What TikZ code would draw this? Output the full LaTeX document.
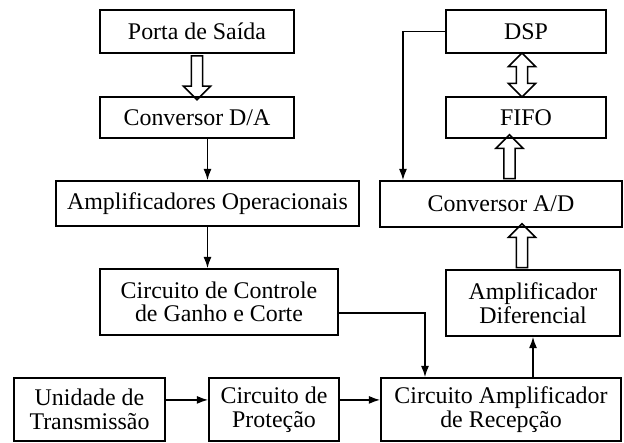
\documentclass[tikz,border=0pt]{standalone}
\usepackage{fontspec}
\setmainfont{Liberation Serif}
\usetikzlibrary{arrows.meta, shapes.arrows}

\begin{document}
\begin{tikzpicture}[x=0.025cm, y=-0.025cm, >={Latex[length=2.8mm, width=2mm]}, font=\fontsize{17}{16.8}\selectfont,
        block/.style={rectangle, draw, line width=1.3pt, align=center, inner sep=0pt},
        link/.style={->, line width=0.9pt},
        hollow/.style={single arrow, draw, line width=1.1pt, inner sep=0.12cm, minimum height=1.1cm, single arrow head extend=0.2cm},
        hollowboth/.style={double arrow, draw, line width=1.1pt, inner sep=0.12cm, minimum height=1.1cm, double arrow head extend=0.2cm}]
        \useasboundingbox (0,0) rectangle (624,442);
        \node[block, minimum width=4.85cm, minimum height=1.075cm] (porta) at (197,31.5) {Porta de Saída};
        \node[block, minimum width=4.85cm, minimum height=1.025cm] (da) at (197,117.5) {Conversor D/A};
        \node[block, minimum width=7.575cm, minimum height=1.125cm] (ampop) at (207.5,203.5) {Amplificadores Operacionais};
        \node[block, minimum width=5.95cm, minimum height=1.65cm] (ctrl) at (219,302) {Circuito de Controle\\de Ganho e Corte};
        \node[block, minimum width=4cm, minimum height=1.075cm] (dsp) at (526,31.5) {DSP};
        \node[block, minimum width=4cm, minimum height=1.025cm] (fifo) at (526,117.5) {FIFO};
        \node[block, minimum width=6.05cm, minimum height=1.15cm] (ad) at (501,204) {Conversor A/D};
        \node[block, minimum width=4.35cm, minimum height=1.65cm] (ampdif) at (533,303) {Amplificador\\Diferencial};
        \node[block, minimum width=3.775cm, minimum height=1.575cm] (unid) at (89.5,409.5) {Unidade de\\Transmissão};
        \node[block, minimum width=3.25cm, minimum height=1.575cm] (prot) at (274,409.5) {Circuito de\\Proteção};
        \node[block, minimum width=6cm, minimum height=1.575cm] (rec) at (501,409.5) {Circuito Amplificador\\de Recepção};

        \path (porta.south) -- (da.north) node[midway, hollow, rotate=-90] {};
        \path ([xshift=-0.1cm]dsp.south) -- ([xshift=-0.1cm]fifo.north) node[midway, hollowboth, rotate=90] {};
        \path ([xshift=-0.1cm]ad.north) -- ([xshift=-0.1cm]fifo.south) node[midway, hollow, rotate=90] {};
        \path ([xshift=-0.275cm]ampdif.north) -- ([xshift=-0.275cm]ampdif.north |- ad.south) node[midway, hollow, rotate=90] {};

        \draw[link] (da.south -| ampop.north) -- (ampop.north);
        \draw[link] (ampop.south) -- (ampop.south |- ctrl.north);
        \draw[link] ([yshift=-0.275cm]ctrl.east) -| ([xshift=-1.9cm]rec.north);
        \draw[link] ([yshift=0.24cm]unid.east) -- ([yshift=0.24cm]prot.west);
        \draw[link] ([yshift=0.24cm]prot.east) -- ([yshift=0.24cm]rec.west);
        \draw[link] (ampdif.south |- rec.north) -- (ampdif.south);
        \draw[link] (dsp.west) -| ([xshift=-2.45cm]ad.north);
    \end{tikzpicture}
\end{document}
